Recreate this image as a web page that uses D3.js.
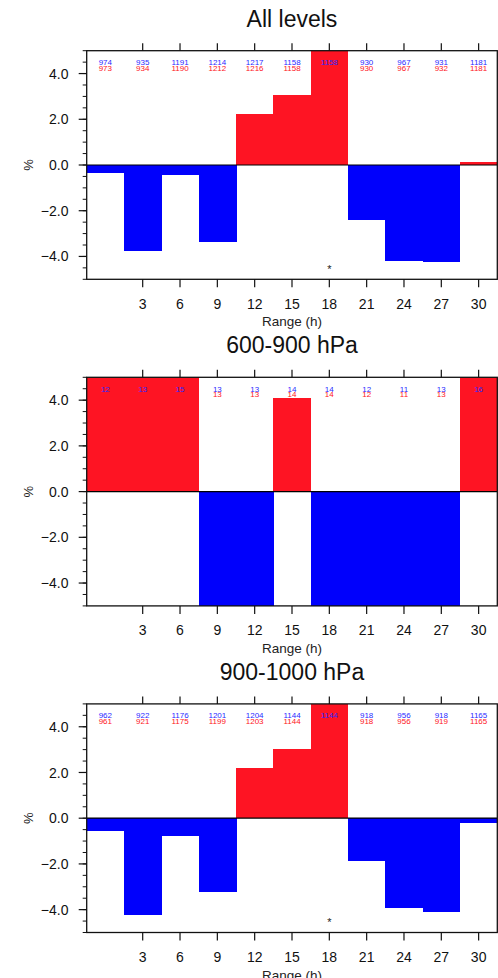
<!DOCTYPE html>
<html>
<head>
<meta charset="utf-8">
<script src="https://cdn.jsdelivr.net/npm/d3@7"></script>
<style>
  body { margin: 0; background: #fff; }
  text { font-family: "Liberation Sans", Arial, Helvetica, sans-serif; }
</style>
</head>
<body>
<div id="chart"></div>
<script>
// forecast ranges (h), one bar per range
const ranges = [0, 3, 6, 9, 12, 15, 18, 21, 24, 27, 30];
const xTicks = [3, 6, 9, 12, 15, 18, 21, 24, 27, 30];
const yTicks = [-4, -2, 0, 2, 4];
const titles = ["All levels", "600-900 hPa", "900-1000 hPa"];

// All levels
const allPct  = [-0.34, -3.75, -0.44, -3.37, 2.21, 3.08, 5.6, -2.39, -4.19, -4.26, 0.13];
const allBlue = [974, 935, 1191, 1214, 1217, 1158, 1158, 930, 967, 931, 1181];
const allRed  = [973, 934, 1190, 1212, 1216, 1158, 1156, 930, 967, 932, 1181];
const allSig  = [0, 0, 0, 0, 0, 0, 1, 0, 0, 0, 0];

// 600-900 hPa
const midPct  = [8.3, 7.7, 6.7, -7.7, -7.7, 4.1, -7.1, -8.3, -9.1, -7.7, 6.3];
const midBlue = [12, 13, 15, 13, 13, 14, 14, 12, 11, 13, 16];
const midRed  = [12, 13, 15, 13, 13, 14, 14, 12, 11, 13, 16];
const midSig  = [0, 0, 0, 0, 0, 0, 0, 0, 0, 0, 0];

// 900-1000 hPa
const lowPct  = [-0.58, -4.23, -0.77, -3.21, 2.2, 3.04, 5.5, -1.86, -3.94, -4.09, -0.19];
const lowBlue = [962, 922, 1176, 1201, 1204, 1144, 1144, 918, 956, 918, 1165];
const lowRed  = [961, 921, 1175, 1199, 1203, 1144, 1143, 918, 956, 919, 1165];
const lowSig  = [0, 0, 0, 0, 0, 0, 1, 0, 0, 0, 0];

const panels = [
    {title: titles[0], pct: allPct, blue: allBlue, red: allRed, sig: allSig},
    {title: titles[1], pct: midPct, blue: midBlue, red: midRed, sig: midSig},
    {title: titles[2], pct: lowPct, blue: lowBlue, red: lowRed, sig: lowSig}
];

const W = 498, H = 978;
const left = 86.7, right = 497.3, plotH = 228.6, top0 = 50.7, step = 326.6;
const RED = "#fe1423", BLUE = "#0000fc";

const svg = d3.select("#chart").append("svg")
    .attr("width", W)
    .attr("height", H);

const x = d3.scaleLinear().domain([-1.5, 31.5]).range([left, right]);
const y = d3.scaleLinear().domain([-5, 5]).range([plotH, 0]);

panels.forEach(function(p, i) {
    let top = top0 + i * step;
    let g = svg.append("g").attr("transform", "translate(0," + top + ")");

    g.append("clipPath").attr("id", "clip" + i)
        .append("rect")
        .attr("x", left).attr("y", 0)
        .attr("width", right - left).attr("height", plotH);

    // title
    g.append("text")
        .attr("x", (left + right) / 2)
        .attr("y", -24)
        .attr("text-anchor", "middle")
        .attr("font-size", "23px")
        .attr("fill", "#111")
        .text(p.title);

    // bars
    g.append("g").attr("clip-path", "url(#clip" + i + ")")
        .selectAll("rect")
        .data(ranges.map((r, j) => ({r: r, v: p.pct[j]})))
        .enter().append("rect")
        .attr("x", d => x(d.r - 1.5))
        .attr("width", d => x(d.r + 1.5) - x(d.r - 1.5) + 0.5)
        .attr("y", d => y(Math.max(0, d.v)))
        .attr("height", d => Math.abs(y(d.v) - y(0)))
        .attr("shape-rendering", "crispEdges")
        .attr("fill", d => d.v >= 0 ? RED : BLUE);

    // zero line
    g.append("line")
        .attr("x1", left).attr("x2", right)
        .attr("y1", y(0)).attr("y2", y(0))
        .attr("stroke", "#000").attr("stroke-width", 1.2);

    // sample counts
    g.selectAll(".redcnt")
        .data(ranges.map((r, j) => ({r: r, c: p.red[j]})))
        .enter().append("text")
        .attr("class", "redcnt")
        .attr("x", d => x(d.r))
        .attr("y", 20)
        .attr("text-anchor", "middle")
        .attr("font-size", "8px")
        .attr("fill", RED)
        .text(d => d.c);
    g.selectAll(".bluecnt")
        .data(ranges.map((r, j) => ({r: r, c: p.blue[j]})))
        .enter().append("text")
        .attr("class", "bluecnt")
        .attr("x", d => x(d.r))
        .attr("y", 14.5)
        .attr("text-anchor", "middle")
        .attr("font-size", "8px")
        .attr("fill", "#2a2aff")
        .text(d => d.c);

    // significance marks
    g.selectAll(".sig")
        .data(ranges.filter((r, j) => p.sig[j]))
        .enter().append("text")
        .attr("class", "sig")
        .attr("x", d => x(d))
        .attr("y", y(-4.5) + 5)
        .attr("text-anchor", "middle")
        .attr("font-size", "11px")
        .attr("fill", "#222")
        .text("*");

    // frame
    g.append("rect")
        .attr("x", left).attr("y", 0)
        .attr("width", right - left).attr("height", plotH)
        .attr("fill", "none")
        .attr("stroke", "#111").attr("stroke-width", 1.3);

    // bottom axis
    let xb = g.append("g").attr("transform", "translate(0," + plotH + ")");
    xb.selectAll("line").data(xTicks).enter().append("line")
        .attr("x1", d => x(d)).attr("x2", d => x(d))
        .attr("y1", 0).attr("y2", 8)
        .attr("stroke", "#111").attr("stroke-width", 1.2);
    xb.selectAll("text").data(xTicks).enter().append("text")
        .attr("x", d => x(d))
        .attr("y", 29.4)
        .attr("text-anchor", "middle")
        .attr("font-size", "14px")
        .attr("fill", "#111")
        .text(d => d);
    xb.append("text")
        .attr("x", (left + right) / 2)
        .attr("y", 47)
        .attr("text-anchor", "middle")
        .attr("font-size", "13.5px")
        .attr("fill", "#222")
        .text("Range (h)");

    // top ticks
    g.append("g").selectAll("line").data(xTicks).enter().append("line")
        .attr("x1", d => x(d)).attr("x2", d => x(d))
        .attr("y1", 0).attr("y2", -7.5)
        .attr("stroke", "#111").attr("stroke-width", 1.2);

    // left axis
    let minor = d3.range(-5, 5.01, 0.5);
    let yl = g.append("g");
    yl.selectAll(".minor").data(minor).enter().append("line")
        .attr("class", "minor")
        .attr("x1", left - 4).attr("x2", left)
        .attr("y1", d => y(d)).attr("y2", d => y(d))
        .attr("stroke", "#111").attr("stroke-width", 1);
    yl.selectAll(".major").data(yTicks).enter().append("line")
        .attr("class", "major")
        .attr("x1", left - 8).attr("x2", left)
        .attr("y1", d => y(d)).attr("y2", d => y(d))
        .attr("stroke", "#111").attr("stroke-width", 1.2);
    yl.selectAll("text").data(yTicks).enter().append("text")
        .attr("x", 68.5)
        .attr("y", d => y(d))
        .attr("dy", "0.36em")
        .attr("text-anchor", "end")
        .attr("font-size", "14px")
        .attr("fill", "#111")
        .text(d3.format(".1f"));
    yl.append("text")
        .attr("transform", "translate(33," + y(0) + ") rotate(-90)")
        .attr("text-anchor", "middle")
        .attr("font-size", "13px")
        .attr("fill", "#222")
        .text("%");
});
</script>
</body>
</html>
